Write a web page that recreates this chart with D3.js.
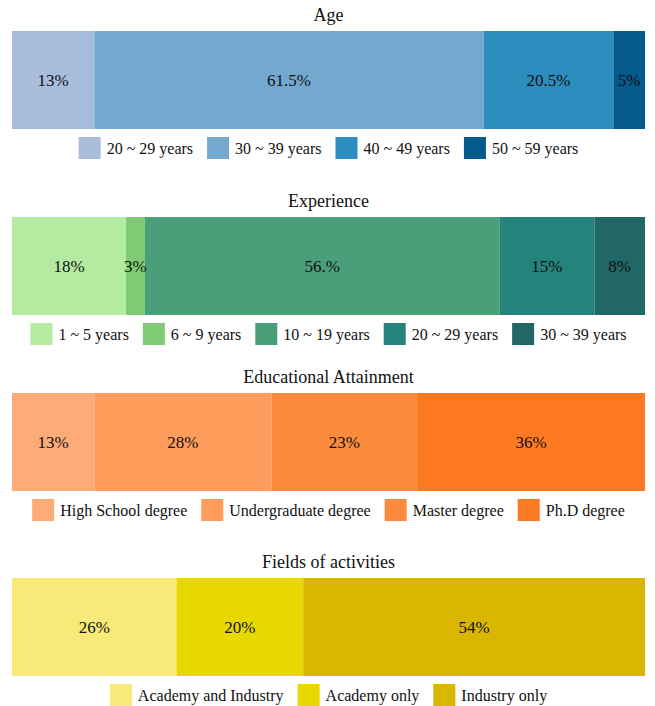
<!DOCTYPE html>
<html>
<head>
<meta charset="utf-8">
<script src="https://cdn.jsdelivr.net/npm/d3@7"></script>
<style>
  html, body { margin: 0; padding: 0; background: #fff; }
  svg { display: block; }
  text { font-family: "Liberation Serif", "Times New Roman", serif; fill: #111; }
</style>
</head>
<body>
<svg id="chart" width="655" height="706"></svg>
<script>
// Survey respondent profile: four 100% stacked bars with legends

const ageCategories = ["20 ~ 29 years", "30 ~ 39 years", "40 ~ 49 years", "50 ~ 59 years"];
const ageValues = [13, 61.5, 20.5, 5];
const ageLabels = ["13%", "61.5%", "20.5%", "5%"];
const ageColors = ["#a8bcdc", "#74a9cf", "#2b8cbe", "#045a8d"];

const expCategories = ["1 ~ 5 years", "6 ~ 9 years", "10 ~ 19 years", "20 ~ 29 years", "30 ~ 39 years"];
const expValues = [18, 3, 56, 15, 8];
const expLabels = ["18%", "3%", "56.%", "15%", "8%"];
const expColors = ["#b3eca0", "#7fcc74", "#4a9f7b", "#24837a", "#216765"];

const eduCategories = ["High School degree", "Undergraduate degree", "Master degree", "Ph.D degree"];
const eduValues = [13, 28, 23, 36];
const eduLabels = ["13%", "28%", "23%", "36%"];
const eduColors = ["#fdab79", "#fd9c5b", "#fd8b3e", "#fd7a22"];

const fieldCategories = ["Academy and Industry", "Academy only", "Industry only"];
const fieldValues = [26, 20, 54];
const fieldLabels = ["26%", "20%", "54%"];
const fieldColors = ["#f7ea78", "#e6d800", "#d9b600"];

const panels = [
  { title: "Age", cats: ageCategories, vals: ageValues, labels: ageLabels, colors: ageColors, top: 0 },
  { title: "Experience", cats: expCategories, vals: expValues, labels: expLabels, colors: expColors, top: 186 },
  { title: "Educational Attainment", cats: eduCategories, vals: eduValues, labels: eduLabels, colors: eduColors, top: 362 },
  { title: "Fields of activities", cats: fieldCategories, vals: fieldValues, labels: fieldLabels, colors: fieldColors, top: 547 }
];

const svg = d3.select("#chart");
const barLeft = 12, barRight = 645;
const barTop = 31, barHeight = 98;

const x = d3.scaleLinear().domain([0, 100]).range([barLeft, barRight]);

panels.forEach(p => {
  const g = svg.append("g").attr("transform", `translate(0,${p.top})`);

  // title
  g.append("text")
    .attr("x", (barLeft + barRight) / 2)
    .attr("y", 21)
    .attr("text-anchor", "middle")
    .style("font-size", "18px")
    .text(p.title);

  // stacked segments
  const starts = d3.cumsum([0, ...p.vals]);
  const segs = p.vals.map((v, i) => ({ v, start: starts[i], end: starts[i] + v, label: p.labels[i], color: p.colors[i] }));

  g.selectAll("rect.seg").data(segs).join("rect")
    .attr("class", "seg")
    .attr("x", d => x(d.start))
    .attr("y", barTop)
    .attr("width", d => x(d.end) - x(d.start))
    .attr("height", barHeight)
    .attr("fill", d => d.color);

  g.selectAll("text.val").data(segs).join("text")
    .attr("class", "val")
    .attr("x", d => (x(d.start) + x(d.end)) / 2)
    .attr("y", barTop + barHeight / 2 + 6)
    .attr("text-anchor", "middle")
    .style("font-size", "17px")
    .text(d => d.label);

  // legend, centred under the bar
  const lg = g.append("g");
  const sw = 22, gapText = 6, gapItem = 14;
  let cx = 0;
  p.cats.forEach((c, i) => {
    const item = lg.append("g").attr("transform", `translate(${cx},0)`);
    item.append("rect").attr("x", 0).attr("y", 0).attr("width", sw).attr("height", sw)
      .attr("fill", p.colors[i]);
    const t = item.append("text").attr("x", sw + gapText).attr("y", 16.5)
      .style("font-size", "16px").text(c);
    cx += sw + gapText + t.node().getComputedTextLength() + gapItem;
  });
  const total = cx - gapItem;
  lg.attr("transform", `translate(${(barLeft + barRight) / 2 - total / 2},${barTop + barHeight + 8})`);
});
</script>
</body>
</html>
